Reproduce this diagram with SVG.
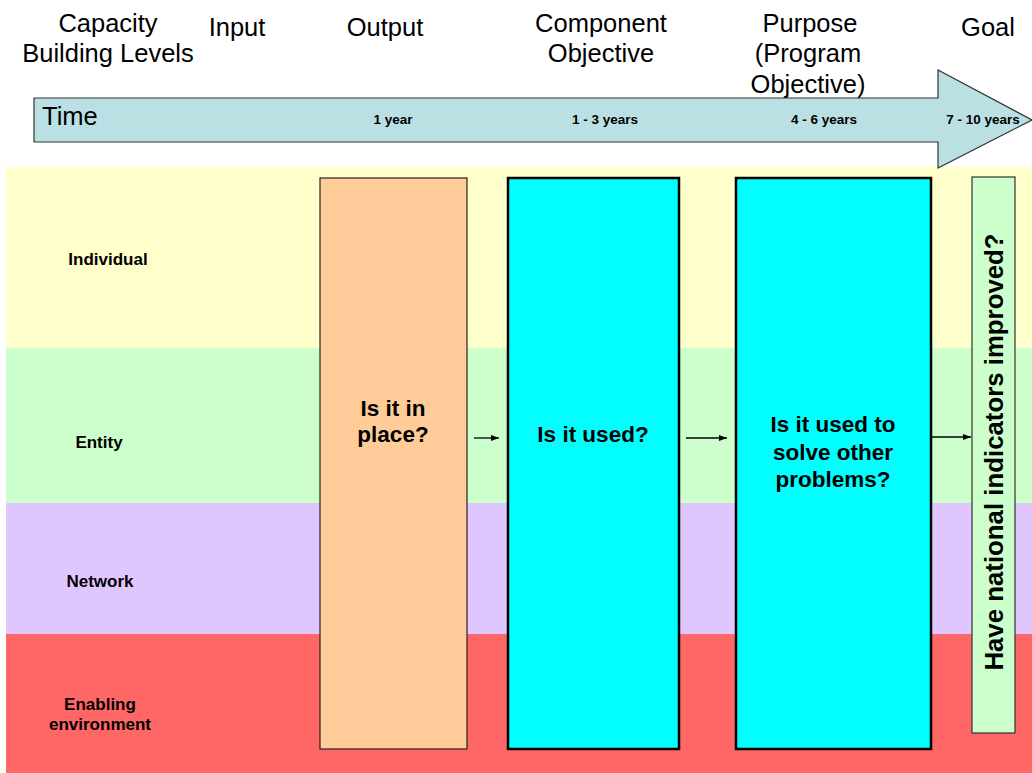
<svg xmlns="http://www.w3.org/2000/svg" width="1032" height="773" viewBox="0 0 1032 773">
<defs>
<style>
.h{font-family:"Liberation Sans",Arial,sans-serif;font-size:25.5px;fill:#000;text-anchor:middle}
.yr{font-family:"Liberation Sans",Arial,sans-serif;font-size:13.5px;font-weight:bold;fill:#000;text-anchor:middle}
.lv{font-family:"Liberation Sans",Arial,sans-serif;font-size:17px;font-weight:bold;fill:#000;text-anchor:middle}
.bx{font-family:"Liberation Sans",Arial,sans-serif;font-size:22.5px;font-weight:bold;fill:#000;text-anchor:middle}
.cy{fill:#00FFFF;stroke:#000;stroke-width:2.5}
.conn{stroke:#000;stroke-width:1.3;fill:none;marker-end:url(#ah)}
</style>
<marker id="ah" viewBox="0 0 10 10" refX="10" refY="5" markerWidth="8" markerHeight="6" markerUnits="userSpaceOnUse" orient="auto" preserveAspectRatio="none">
<path d="M0,0 L10,5 L0,10 z" fill="#000"/>
</marker>
</defs>
<rect width="1032" height="773" fill="#fff"/>
<g id="bands">
<rect x="6" y="167" width="1026" height="181" fill="#FFFFCC"/>
<rect x="6" y="348" width="1026" height="155" fill="#CCFFCC"/>
<rect x="6" y="503" width="1026" height="131" fill="#E0C6FF"/>
<rect x="6" y="634" width="1026" height="139" fill="#FF6666"/>
</g>
<g id="headers">
<text class="h" x="108" y="32">Capacity</text>
<text class="h" x="108" y="62">Building Levels</text>
<text class="h" x="237" y="36">Input</text>
<text class="h" x="385" y="36">Output</text>
<text class="h" x="601" y="32">Component</text>
<text class="h" x="601" y="62">Objective</text>
<text class="h" x="810" y="32">Purpose</text>
<text class="h" x="808" y="62">(Program</text>
<text class="h" x="808" y="93">Objective)</text>
<text class="h" x="988" y="36">Goal</text>
</g>
<g id="time-arrow">
<path d="M34,98 L938,98 L938,70 L1032,120 L938,168 L938,142 L34,142 Z" fill="#BBE0E3" stroke="#333" stroke-width="1.2"/>
<text class="h" x="42" y="125" style="text-anchor:start">Time</text>
<text class="yr" x="393" y="124">1 year</text>
<text class="yr" x="605" y="124">1 - 3 years</text>
<text class="yr" x="824" y="124">4 - 6 years</text>
<text class="yr" x="983" y="124">7 - 10 years</text>
</g>
<g id="levels">
<text class="lv" x="108" y="265">Individual</text>
<text class="lv" x="99" y="448">Entity</text>
<text class="lv" x="100" y="587">Network</text>
<text class="lv" x="100" y="710">Enabling</text>
<text class="lv" x="100" y="730">environment</text>
</g>
<g id="output-box">
<rect x="320" y="178" width="147" height="571" fill="#FFCC99" stroke="#222" stroke-width="1.2"/>
<text class="bx" x="393" y="416">Is it in</text>
<text class="bx" x="393" y="442">place?</text>
</g>
<g id="component-box">
<rect class="cy" x="508" y="178" width="171" height="571"/>
<text class="bx" x="593" y="442">Is it used?</text>
</g>
<g id="purpose-box">
<rect class="cy" x="736" y="178" width="195" height="571"/>
<text class="bx" x="833" y="432">Is it used to</text>
<text class="bx" x="833" y="460">solve other</text>
<text class="bx" x="833" y="487">problems?</text>
</g>
<g id="goal-box">
<rect x="972" y="177" width="43" height="556" fill="#CCFFCC" stroke="#333" stroke-width="1.2"/>
<text class="bx" x="1003" y="452" style="font-size:25.8px" transform="rotate(-90 1003 452)">Have national indicators improved?</text>
</g>
<g id="connectors">
<line class="conn" x1="474" y1="438" x2="499" y2="438"/>
<line class="conn" x1="686" y1="438" x2="727" y2="438"/>
<line class="conn" x1="931" y1="437" x2="971" y2="437"/>
</g>
</svg>
